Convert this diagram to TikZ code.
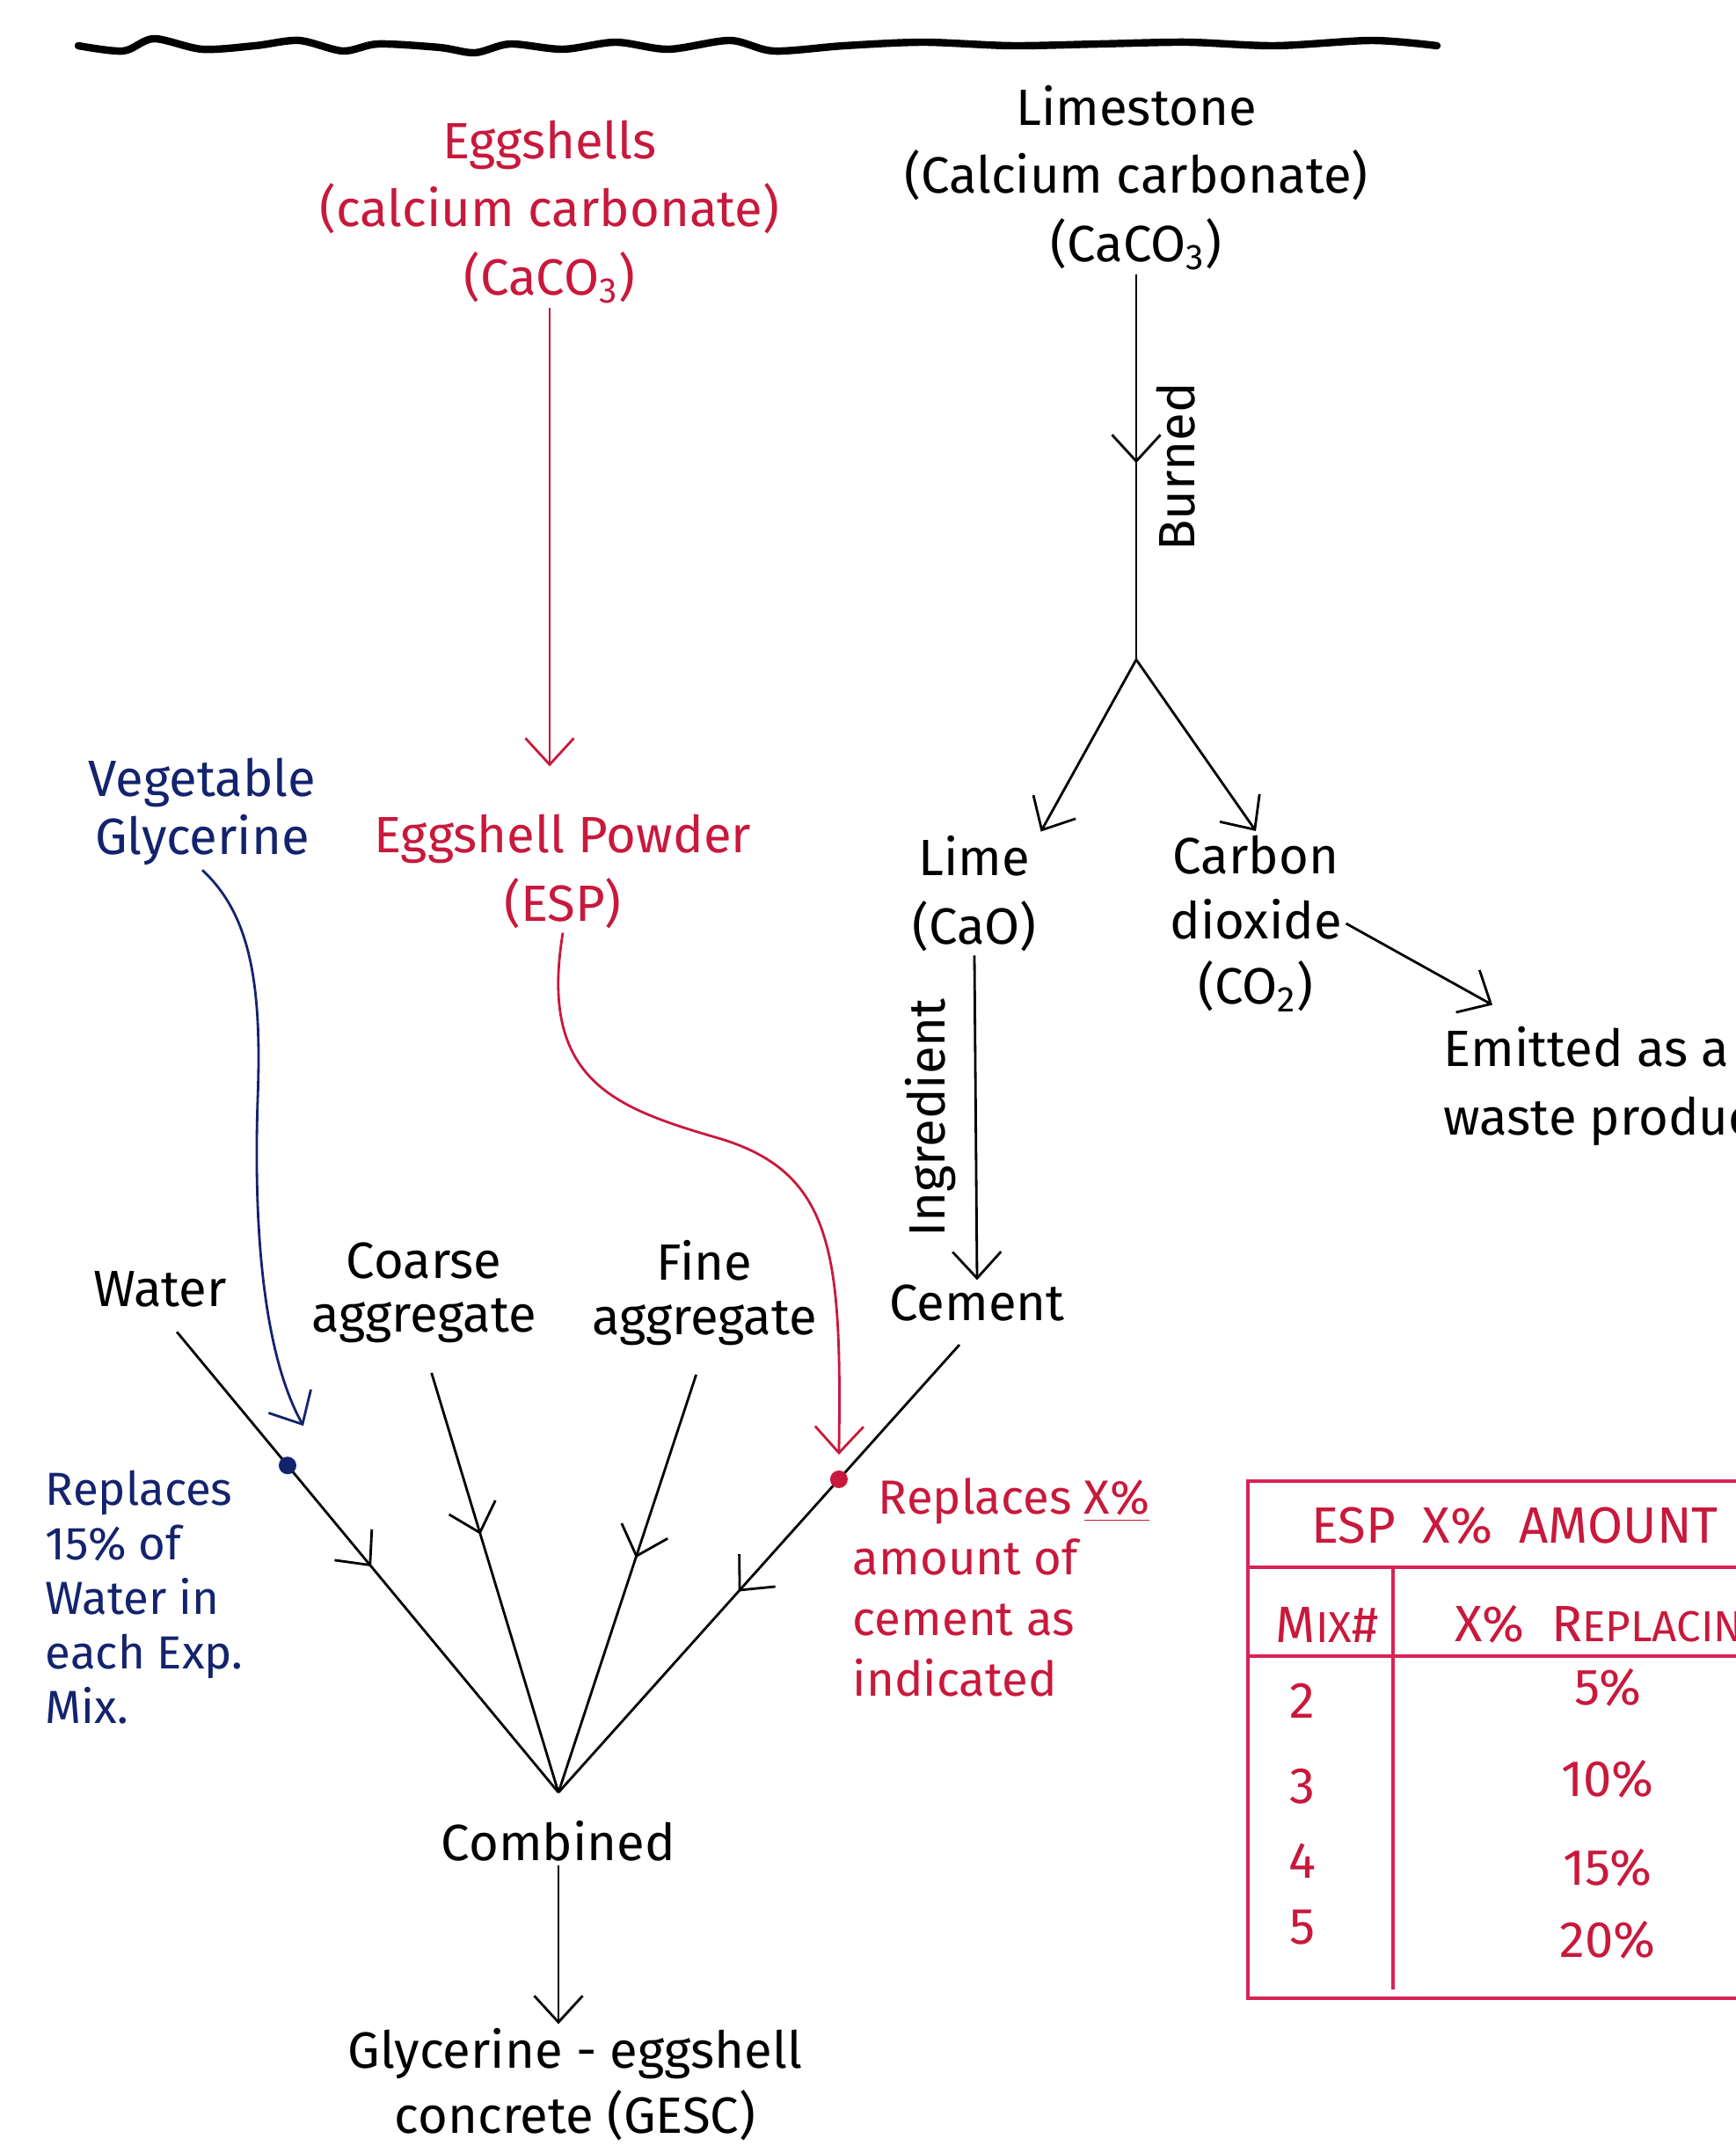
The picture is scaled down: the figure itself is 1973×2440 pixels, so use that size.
\documentclass[tikz,border=0pt]{standalone}
\usepackage{fontspec}
\setmainfont{Fira Sans}
\usetikzlibrary{positioning,arrows.meta,decorations.markings,calc}
\definecolor{eggred}{RGB}{200,25,60}
\definecolor{tabred}{RGB}{215,35,85}
\definecolor{glyblue}{RGB}{20,35,110}
\tikzset{
  txt/.style={align=center,font=\fontsize{16.5}{22}\selectfont,inner sep=1pt},
  sidetxt/.style={txt,midway,rotate=90,inner sep=6pt},
  barb/.style={-{Straight Barb[length=3mm,width=5.5mm]}},
  midbarb/.style={postaction={decorate},decoration={markings,
      mark=at position #1 with {\arrow{Straight Barb[length=3mm,width=5.5mm]}}}},
}

\begin{document}
\begin{tikzpicture}[x=0.01cm,y=-0.01cm,line width=0.8pt]
\useasboundingbox (0,0) rectangle (1973,2440);
% rule under the title
\draw [line width=2.4pt,line cap=round] plot [smooth] coordinates
  {(89,52) (140,58) (175,44) (230,56) (290,52) (340,46) (390,58) (430,50)
   (500,54) (540,60) (580,50) (640,56) (700,48) (760,56) (830,46) (880,58)
   (960,52) (1050,48) (1150,52) (1250,50) (1350,48) (1450,52) (1560,46) (1634,52)};
\path
  (625,241) node [txt,text=eggred] (eggs) {Eggshells\\(calcium carbonate)\\(CaCO\textsubscript{3})}
  (1292,202) node [txt] (lst) {Limestone\\(Calcium carbonate)\\(CaCO\textsubscript{3})}
  (640,991) node [txt,text=eggred] (esp) {Eggshell Powder\\(ESP)}
  (230,923) node [txt,text=glyblue,font=\fontsize{16.5}{19}\selectfont] (glyc) {Vegetable\\Glycerine}
  (1108,1016) node [txt] (lime) {Lime\\(CaO)}
  (1428,1050) node [txt,font=\fontsize{16.5}{21}\selectfont] (co2) {Carbon\\dioxide\\(CO\textsubscript{2})}
  (1637,1235) node [txt,anchor=west,align=left] (emit) {Emitted as a\\waste product}
  (182,1466) node [txt] (water) {Water}
  (482,1470) node [txt,font=\fontsize{16.5}{17.5}\selectfont] (coarse) {Coarse\\aggregate}
  (801,1470) node [txt,font=\fontsize{16.5}{17.5}\selectfont] (fine) {Fine\\aggregate}
  (1111,1481) node [txt] (cement) {Cement}
  (635,2093) node [txt] (comb) {Combined}
  (654,2370) node [txt,font=\fontsize{16.5}{21}\selectfont] (gesc) {Glycerine - eggshell\\concrete (GESC)}
  (47,1816) node [txt,anchor=west,align=left,text=glyblue,font=\fontsize{15}{17.6}\selectfont] (wnote)
    {Replaces\\15\% of\\Water in\\each Exp.\\Mix.}
  (965,1805) node [txt,anchor=west,align=left,text=eggred,font=\fontsize{15.5}{19.6}\selectfont] (cnote)
    {\ \ Replaces \underline{X\%}\\amount of\\cement as\\indicated};

% limestone branch
\coordinate (fork) at (1292,750);
\draw [midbarb=0.49] (lst.south) -- node [sidetxt,anchor=north] {Burned} (fork);
\draw [barb] (fork) -- (lime.north east);
\draw [barb] (fork) -- (co2.north);
\coordinate (etip) at ($(emit.north west)+(60,-20)$);
\draw [barb] (co2.east) -- (etip);
\draw [barb] (lime.south) -- node [sidetxt,anchor=south] {Ingredient} (cement.north);

% the mix
\coordinate (mix) at (635,2038);
\draw [midbarb=0.53,shorten <=3mm] (water.south) -- coordinate [pos=0.32] (wdot) (mix);
\draw [midbarb=0.42,shorten <=3mm] (coarse.south) -- (mix);
\draw [midbarb=0.47,shorten <=3mm] (fine.south) -- (mix);
\draw [midbarb=0.57,shorten <=3mm] (cement.south) -- coordinate [pos=0.33] (cdot) (mix);
\fill [glyblue] (wdot) circle [radius=1mm];
\fill [eggred] (cdot) circle [radius=1mm];

% eggshell and glycerine
\draw [eggred,barb,shorten >=5mm] (eggs.south) -- (eggs.south |- esp.north);
\coordinate (gtip) at ($(wdot)+(18,-45)$);
\draw [glyblue,barb] (glyc.south) .. controls (285,1040) and (298,1120) .. (293,1250)
  .. controls (288,1400) and (300,1540) .. (gtip);
\coordinate (rtip) at ($(cdot)+(0,-28)$);
\draw [eggred,barb] (esp.south) .. controls (612,1230) and (700,1260) .. (820,1295)
  .. controls (950,1335) and (957,1430) .. (rtip);

\draw [barb] (comb.south) -- (comb.south |- gesc.north);

% table
\draw [tabred,line width=1.2pt] (2000,1684) -- (1419,1684) -- (1419,2272) -- (2000,2272)
  (1419,1782) -- (2000,1782) (1419,1883) -- (2000,1883) (1584,1782) -- (1584,2262);
\path [text=eggred,font=\fontsize{16.5}{20}\selectfont]
  (1478,1735) node [anchor=west] (thead) {ESP\ \ X\%\ \ AMOUNT}
  (1509,1847) node (tmix) {M{\fontsize{14}{14}\selectfont IX}\#}
  (1641,1847) node [anchor=west] (trep) {X\%\ \ R{\fontsize{14}{14}\selectfont EPLACING}};
\foreach \m/\ym/\p/\yp in {2/1934/5/1919, 3/2031/10/2023, 4/2116/15/2124, 5/2191/20/2206}
  \path [text=eggred,font=\fontsize{16.5}{20}\selectfont]
    (1481,\ym) node (m\m) {\m}
    (1828,\yp) node (p\m) {\p\%};
\end{tikzpicture}
\end{document}
